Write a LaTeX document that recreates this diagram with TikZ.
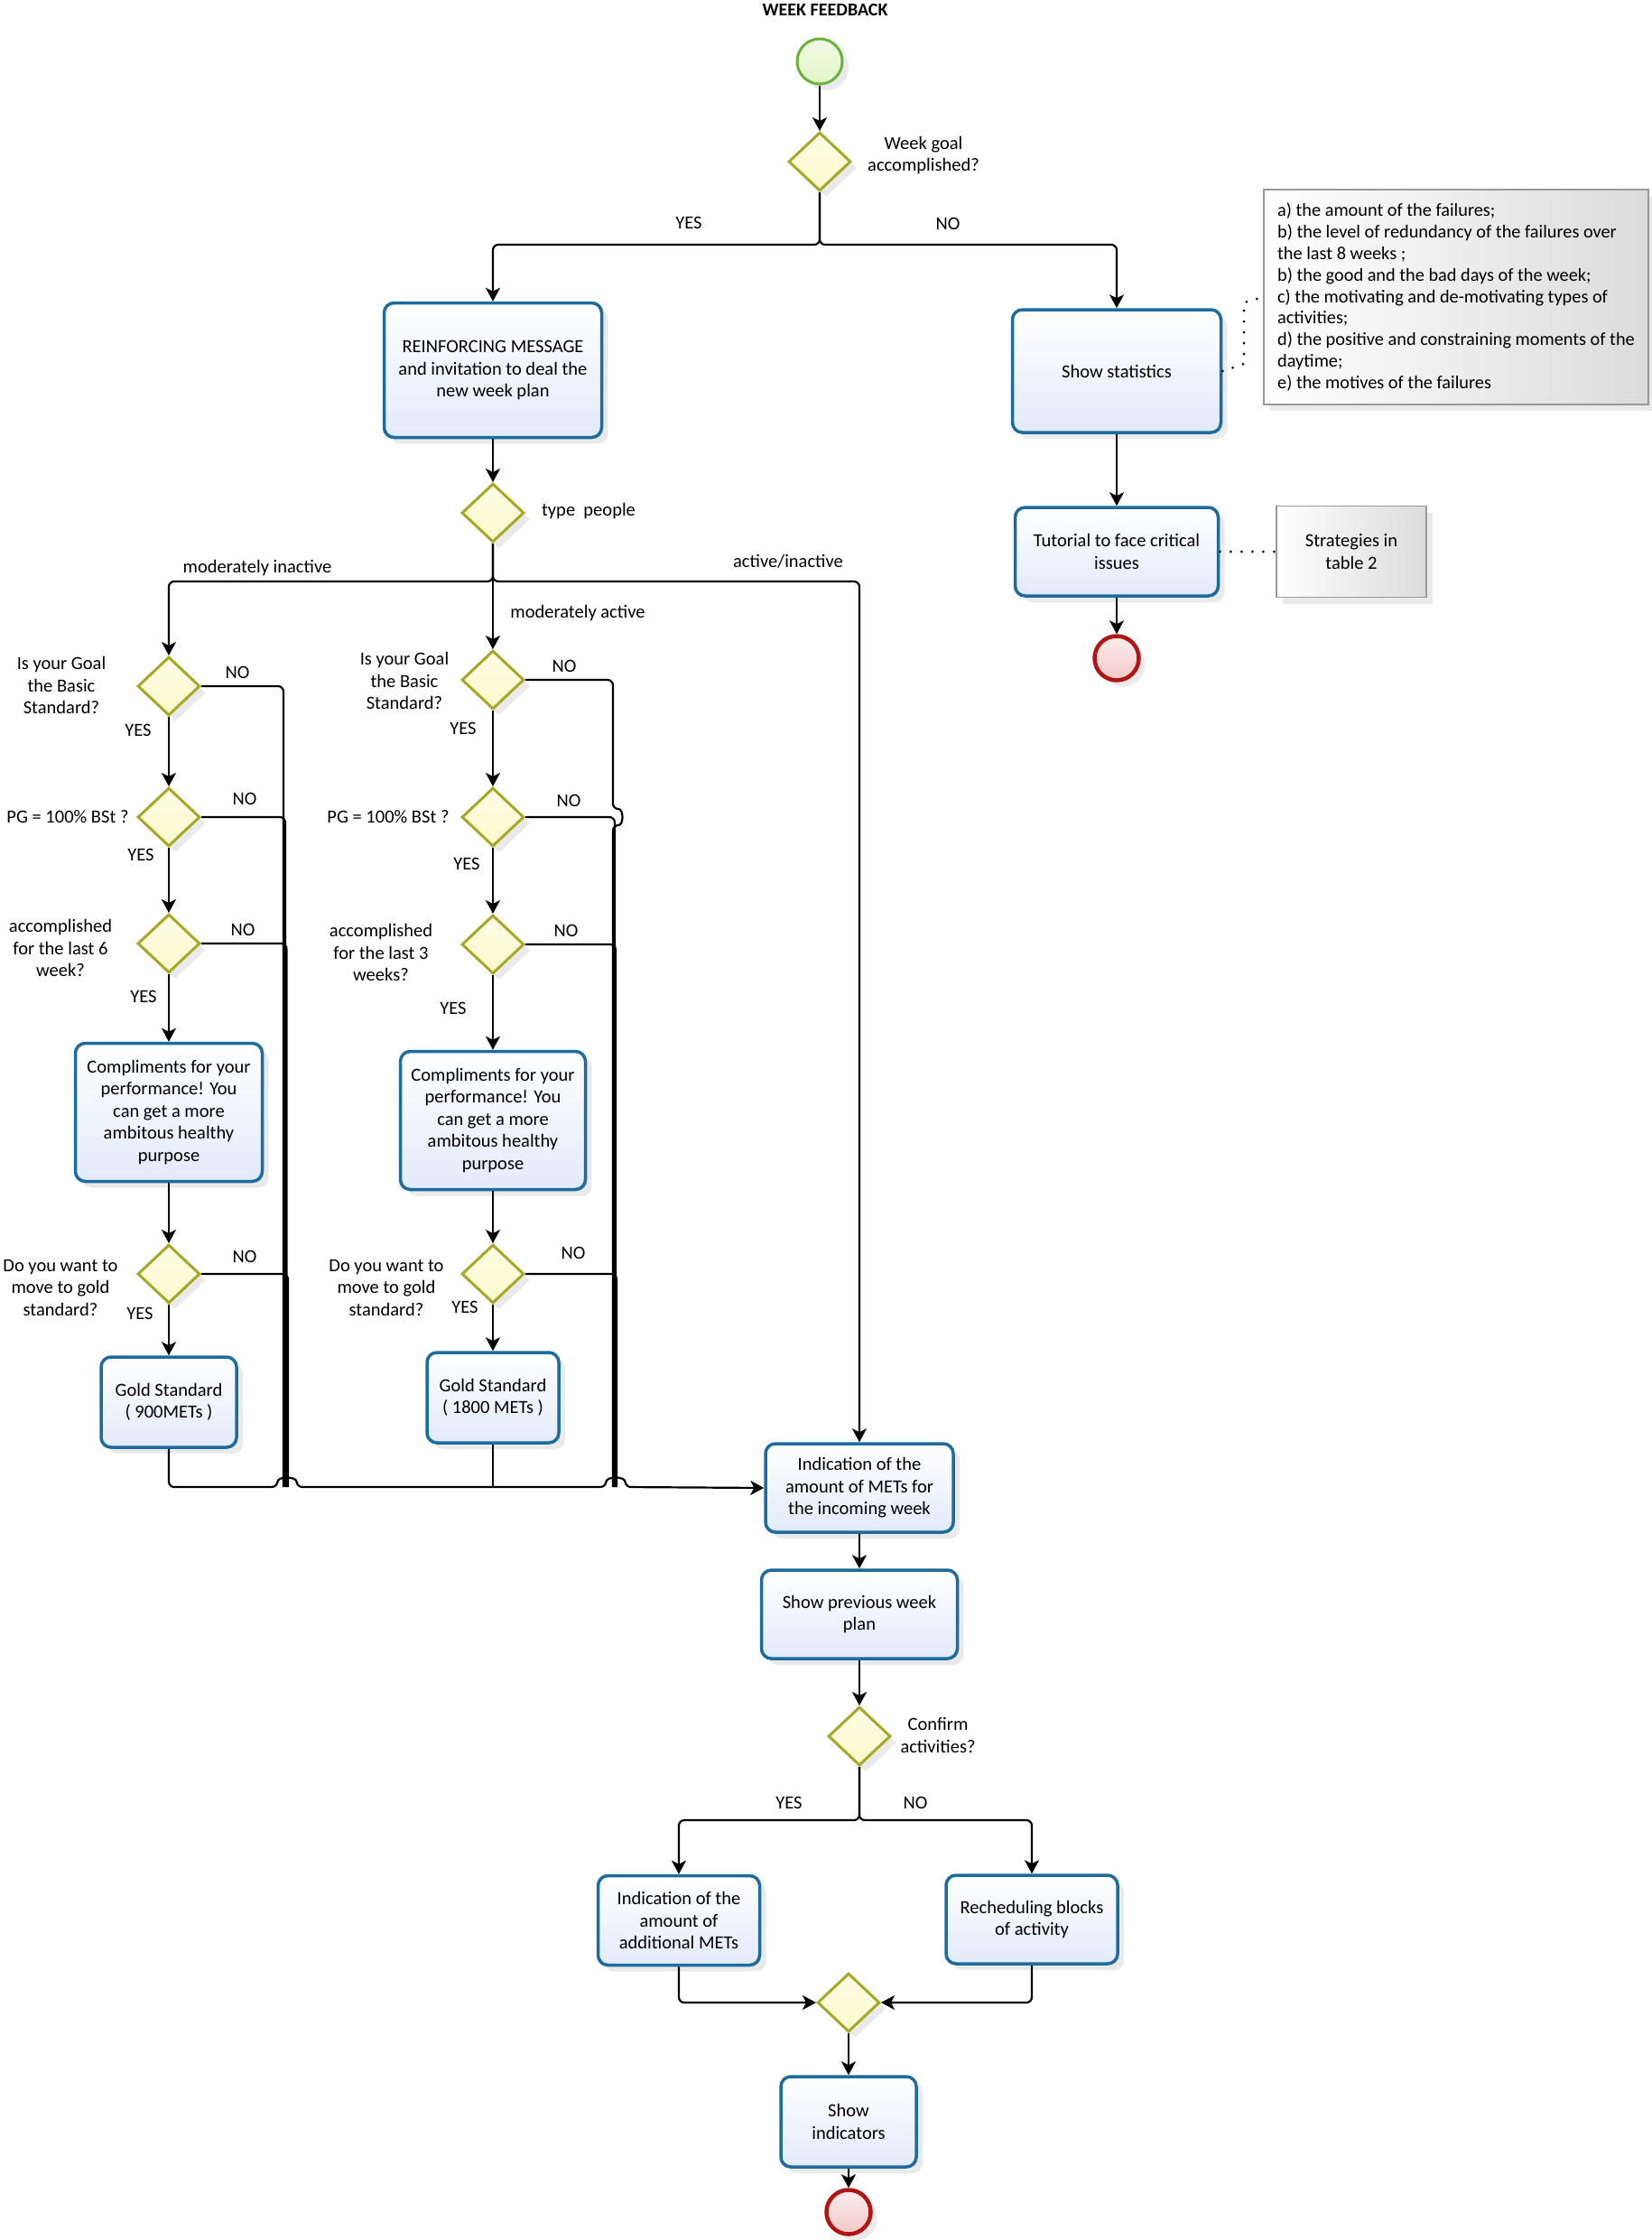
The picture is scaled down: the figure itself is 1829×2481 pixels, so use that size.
\documentclass[tikz,border=0pt]{standalone}
\usepackage{fontspec}
\setmainfont{Carlito}
\usetikzlibrary{shapes.geometric,arrows.meta,shadows,calc}
\definecolor{bblue}{RGB}{30,108,158}
\definecolor{bfill}{RGB}{226,234,250}
\definecolor{dline}{RGB}{168,168,40}
\definecolor{dfill}{RGB}{250,250,205}
\definecolor{gline}{RGB}{108,178,62}
\definecolor{gfill}{RGB}{226,246,200}
\definecolor{rline}{RGB}{176,22,22}
\definecolor{rfill}{RGB}{244,200,200}
\begin{document}
\begin{tikzpicture}[x=1pt,y=-1pt,
  every node/.style={font=\fontsize{20.5}{24.5}\selectfont},
  shad/.style={drop shadow={opacity=0.16, shadow xshift=7pt, shadow yshift=-7pt}},
  task/.style={draw=bblue, line width=3.5pt, rounded corners=11pt, top color=white, bottom color=bfill, align=center, inner sep=2pt, shad},
  gate/.style={diamond, draw=dline, line width=3pt, top color=dfill!50!white, bottom color=dfill, minimum width=69pt, minimum height=65pt, inner sep=0pt, shad},
  startev/.style={circle, draw=gline, line width=3pt, top color=gfill!50!white, bottom color=gfill, minimum size=50pt, inner sep=0pt, shad},
  endev/.style={circle, draw=rline, line width=4.5pt, top color=rfill!35!white, bottom color=rfill, minimum size=49pt, inner sep=0pt, shad},
  notebox/.style={draw=black!40, line width=1.2pt, left color=white, right color=black!14, shad},
  lbl/.style={align=center, inner sep=0pt},
  conn/.style={line width=2.2pt, rounded corners=6pt},
  arr/.style={conn, -{Stealth[length=15pt,width=16pt,inset=4pt]}},
  assoc/.style={line width=3pt, line cap=round, dash pattern=on 0pt off 12pt}
]
\useasboundingbox[fill=white] (0,0) rectangle (1829,2481);

% ---------- top ----------
\node[lbl, font=\fontsize{20}{24}\selectfont\bfseries] (title) at (914,11) {WEEK FEEDBACK};
\node[startev] (start) at (908,68) {};
\node[gate] (d1) at (908,179) {};
\node[lbl] (l_d1) at (1023,172) {Week goal\\accomplished?};
\node[lbl] (l_yes1) at (763,247) {YES};
\node[lbl] (l_no1) at (1050,248) {NO};
\coordinate (j1) at (908,271);

\node[task, minimum width=241pt, minimum height=149pt] (reinf) at (546,410) {REINFORCING MESSAGE\\and invitation to deal the\\new week plan};
\node[task, minimum width=231pt, minimum height=136pt] (stat) at (1237,411) {Show statistics};
\node[notebox, minimum width=426pt, minimum height=238pt, align=left, font=\fontsize{20.3}{23.9}\selectfont] (note) at (1613,329) {a) the amount of the failures;\\b) the level of redundancy of the failures over\\the last 8 weeks ;\\b) the good and the bad days of the week;\\c) the motivating and de-motivating types of\\activities;\\d) the positive and constraining moments of the\\daytime;\\e) the motives of the failures};
\node[task, minimum width=225pt, minimum height=98pt] (tut) at (1237,611) {Tutorial to face critical\\issues};
\node[notebox, minimum width=166pt, minimum height=101pt, align=center] (strat) at (1497,611) {Strategies in\\table 2};
\node[endev] (end1) at (1237,729) {};

\draw[arr] (start) -- (d1);
\draw[arr] (d1.south) -- (j1) -| (reinf.north);
\draw[arr] (d1.south) -- (j1) -| (stat.north);
\draw[arr] (stat) -- (tut);
\draw[arr] (tut) -- (end1);
\draw[assoc] (stat.east) -- (1378,403) -- (1378,335) -- (note.west);
\draw[assoc] (tut.east) -- (strat.west);

% ---------- type people ----------
\node[gate] (tp) at (546,568) {};
\node[lbl] (l_tp) at (652,566) {type~~people};
\coordinate (jt) at (546,644);
\node[lbl] (l_mi) at (285,629) {moderately inactive};
\node[lbl] (l_ai) at (873,622) {active/inactive};
\node[lbl] (l_ma) at (640,679) {moderately active};
\draw[arr] (reinf) -- (tp);

% ---------- left column ----------
\node[gate] (dl1) at (187,760) {};
\node[gate] (dl2) at (187,905) {};
\node[gate] (dl3) at (187,1045) {};
\node[task, minimum width=207pt, minimum height=153pt] (compl) at (187,1232) {Compliments for your\\performance! You\\can get a more\\ambitous healthy\\purpose};
\node[gate] (dl4) at (187,1411) {};
\node[task, minimum width=150pt, minimum height=100pt] (goldl) at (187,1553) {Gold Standard\\( 900METs )};

\node[lbl] (l_dl1) at (68,759) {Is your Goal\\the Basic\\Standard?};
\node[lbl] (l_dl1n) at (263,745) {NO};
\node[lbl] (l_dl1y) at (153,809) {YES};
\node[lbl] (l_dl2) at (75,905) {PG = 100\% BSt ?};
\node[lbl] (l_dl2n) at (271,885) {NO};
\node[lbl] (l_dl2y) at (156,947) {YES};
\node[lbl] (l_dl3) at (67,1050) {accomplished\\for the last 6\\week?};
\node[lbl] (l_dl3n) at (269,1030) {NO};
\node[lbl] (l_dl3y) at (159,1104) {YES};
\node[lbl] (l_dl4) at (67,1426) {Do you want to\\move to gold\\standard?};
\node[lbl] (l_dl4n) at (271,1392) {NO};
\node[lbl] (l_dl4y) at (155,1455) {YES};

% ---------- middle column ----------
\node[gate] (dm1) at (546,753) {};
\node[gate] (dm2) at (546,905) {};
\node[gate] (dm3) at (546,1046) {};
\node[task, minimum width=205pt, minimum height=153pt] (compm) at (546,1241) {Compliments for your\\performance! You\\can get a more\\ambitous healthy\\purpose};
\node[gate] (dm4) at (546,1411) {};
\node[task, minimum width=146pt, minimum height=100pt] (goldm) at (546,1548) {Gold Standard\\( 1800 METs )};

\node[lbl] (l_dm1) at (448,754) {Is your Goal\\the Basic\\Standard?};
\node[lbl] (l_dm1n) at (625,738) {NO};
\node[lbl] (l_dm1y) at (513,807) {YES};
\node[lbl] (l_dm2) at (430,905) {PG = 100\% BSt ?};
\node[lbl] (l_dm2n) at (630,887) {NO};
\node[lbl] (l_dm2y) at (517,957) {YES};
\node[lbl] (l_dm3) at (422,1055) {accomplished\\for the last 3\\weeks?};
\node[lbl] (l_dm3n) at (627,1031) {NO};
\node[lbl] (l_dm3y) at (502,1117) {YES};
\node[lbl] (l_dm4) at (428,1426) {Do you want to\\move to gold\\standard?};
\node[lbl] (l_dm4n) at (635,1388) {NO};
\node[lbl] (l_dm4y) at (515,1448) {YES};

% ---------- lower flow ----------
\node[task, minimum width=208pt, minimum height=98pt] (ind) at (952,1648) {Indication of the\\amount of METs for\\the incoming week};
\node[task, minimum width=217pt, minimum height=98pt] (prev) at (952,1788) {Show previous week\\plan};
\node[gate] (conf) at (952,1923) {};
\node[lbl] (l_conf) at (1039,1922) {Confirm\\activities?};
\node[lbl] (l_cy) at (874,1997) {YES};
\node[lbl] (l_cn) at (1014,1997) {NO};
\coordinate (jc) at (952,2016);
\node[task, minimum width=179pt, minimum height=99pt] (addm) at (752,2127) {Indication of the\\amount of\\additional METs};
\node[task, minimum width=190pt, minimum height=98pt] (resch) at (1143,2126) {Recheduling blocks\\of activity};
\node[gate] (mg) at (940,2218) {};
\node[task, minimum width=150pt, minimum height=100pt] (showi) at (940,2350) {Show\\indicators};
\node[endev] (end2) at (940,2450) {};

% ---------- connectors: type people split ----------
\draw[arr] (tp.south) -- (jt) -| (dl1.north);
\draw[arr] (tp.south) -- (jt) -| (ind.north);
\draw[arr] (tp.south) -- (dm1.north);

% left column yes chain
\draw[arr] (dl1) -- (dl2);
\draw[arr] (dl2) -- (dl3);
\draw[arr] (dl3) -- (compl);
\draw[arr] (compl) -- (dl4);
\draw[arr] (dl4) -- (goldl);
% middle column yes chain
\draw[arr] (dm1) -- (dm2);
\draw[arr] (dm2) -- (dm3);
\draw[arr] (dm3) -- (compm);
\draw[arr] (compm) -- (dm4);
\draw[arr] (dm4) -- (goldm);

% left NO lines
\draw[conn] (dl1.east) -| (314,1647);
\draw[conn] (dl2.east) -| (316,1647);
\draw[conn] (dl3.east) -| (317.5,1647);
\draw[conn] (dl4.east) -| (319,1647);
% middle NO lines
\draw[conn] (dm1.east) -- (679,753) -- (679,896) .. controls (691,896) and (691,914) .. (679,914) -- (679,1647);
\draw[conn] (dm2.east) -| (681,1647);
\draw[conn] (dm3.east) -| (682,1647);
\draw[conn] (dm4.east) -| (683,1647);

% merge line
\coordinate (jl) at (187,1647);
\coordinate (jm) at (546,1647);
\draw[arr] (goldl.south) -- (jl) -- (307,1647) .. controls (308,1635) and (328,1635) .. (329,1647) -- (671,1647) .. controls (672,1635) and (692,1635) .. (693,1647) -- (ind.west);
\draw[conn] (goldm.south) -- (jm);

% ---------- lower connectors ----------
\draw[arr] (ind) -- (prev);
\draw[arr] (prev) -- (conf);
\draw[arr] (conf.south) -- (jc) -| (addm.north);
\draw[arr] (conf.south) -- (jc) -| (resch.north);
\draw[arr] (addm.south) |- (mg.west);
\draw[arr] (resch.south) |- (mg.east);
\draw[arr] (mg) -- (showi);
\draw[arr] (showi) -- (end2);
\end{tikzpicture}
\end{document}
